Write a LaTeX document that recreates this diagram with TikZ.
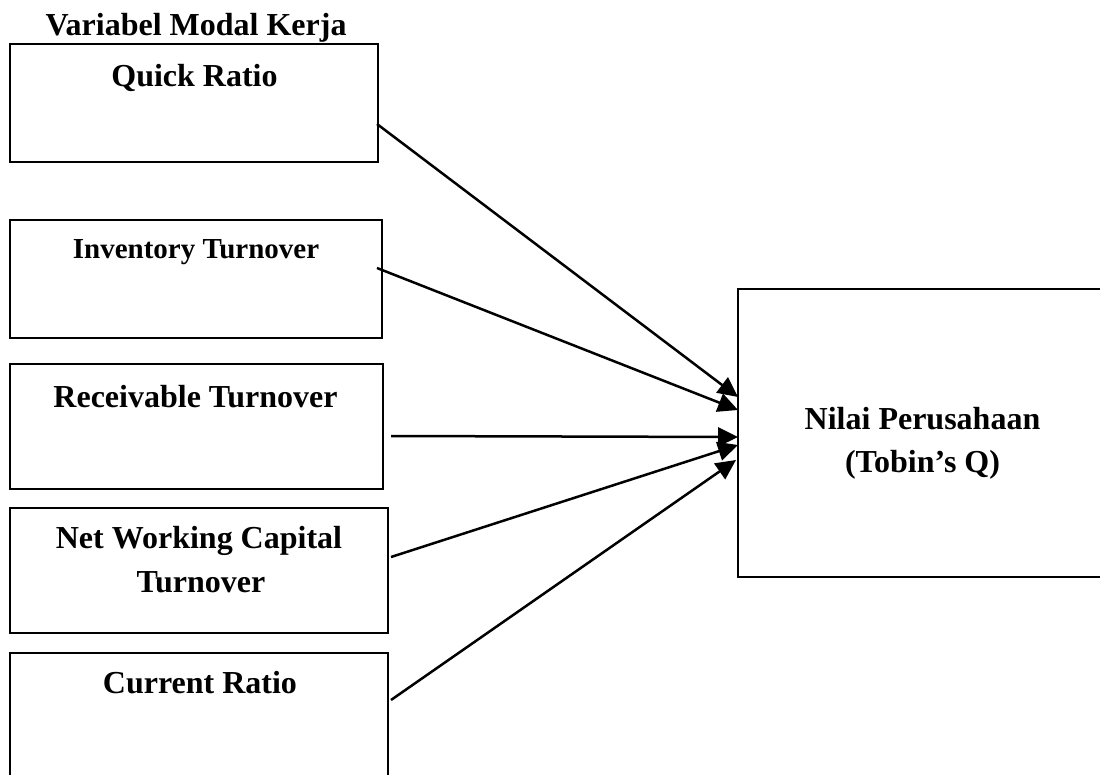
\documentclass[tikz,border=0pt]{standalone}
\usepackage{fontspec}
\setmainfont{Liberation Serif}
\usetikzlibrary{arrows.meta}
\begin{document}
\begin{tikzpicture}[x=1pt,y=-1pt,
  box/.style={draw=black,line width=2.2pt,rectangle,inner sep=0pt,outer sep=0pt},
  lbl/.style={anchor=base,inner sep=0pt,font=\bfseries\fontsize{32}{38}\selectfont},
  lblsmall/.style={anchor=base,inner sep=0pt,font=\bfseries\fontsize{29}{35}\selectfont},
  conn/.style={line width=2.5pt,-{Triangle[length=20pt,width=19pt]}}]
\clip (0,0) rectangle (1100,774);
\fill[white] (0,0) rectangle (1100,774);
% boxes
\node[box,minimum width=368pt,minimum height=118pt] (qr) at (194,103) {};
\node[box,minimum width=372pt,minimum height=118pt] (it) at (196,279) {};
\node[box,minimum width=373pt,minimum height=125pt] (rt) at (196.5,426.5) {};
\node[box,minimum width=378pt,minimum height=125pt] (nw) at (199,570.5) {};
\node[box,minimum width=378pt,minimum height=137pt] (cr) at (199,721.5) {};
\node[box,minimum width=382pt,minimum height=288pt] (np) at (929,433) {};
% texts
\node[lbl] (title) at (196,35) {Variabel Modal Kerja};
\node[lbl] (tqr) at (194.5,86) {Quick Ratio};
\node[lblsmall] (tit) at (196,258) {Inventory Turnover};
\node[lbl] (trt) at (195.5,407) {Receivable Turnover};
\node[lbl] (tnw1) at (199,548) {Net Working Capital};
\node[lbl] (tnw2) at (201,592) {Turnover};
\node[lbl] (tcr) at (200,693) {Current Ratio};
\node[lbl] (tnp1) at (922.5,429) {Nilai Perusahaan};
\node[lbl] (tnp2) at (922.5,472) {(Tobin’s Q)};
% connectors
\draw[conn] ([xshift=-1pt,yshift=-21pt]qr.east) -- ([yshift=36pt]np.west);
\draw[conn] ([xshift=-5pt,yshift=11pt]it.east) -- ([yshift=23pt]np.west);
\draw[conn] ([xshift=8pt,yshift=-9.5pt]rt.east) -- ([yshift=-4pt]np.west);
\draw[conn] ([xshift=3pt,yshift=13.5pt]nw.east) -- ([yshift=-12pt]np.west);
\draw[conn] ([xshift=3pt,yshift=21.5pt]cr.east) -- ([xshift=-2pt,yshift=-27pt]np.west);
\end{tikzpicture}
\end{document}
